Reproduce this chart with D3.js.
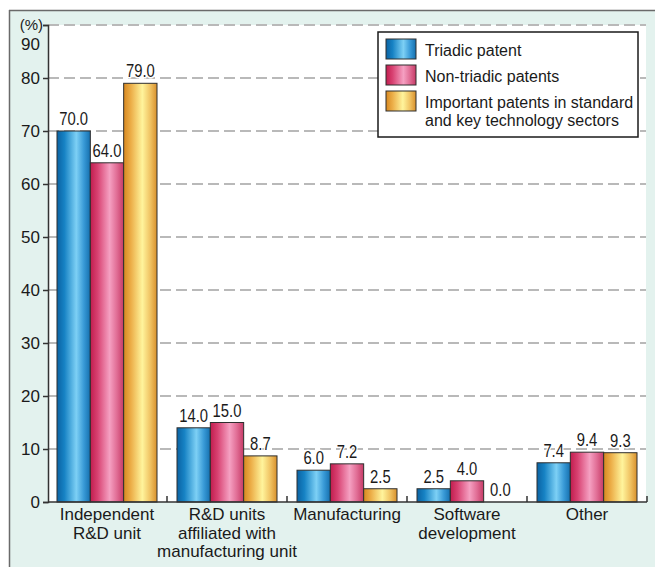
<!DOCTYPE html>
<html>
<head>
<meta charset="utf-8">
<script src="https://cdn.jsdelivr.net/npm/d3@7"></script>
<style>
  html, body { margin: 0; padding: 0; background: #fff; }
  svg { display: block; font-family: "Liberation Sans", Arial, Helvetica, sans-serif; }
</style>
</head>
<body>
<svg id="chart" width="655" height="567"></svg>
<script>
// ---- data ----
const categories = [
  ["Independent", "R&D unit"],
  ["R&D units", "affiliated with", "manufacturing unit"],
  ["Manufacturing"],
  ["Software", "development"],
  ["Other"]
];
const seriesNames = [
  ["Triadic patent"],
  ["Non-triadic patents"],
  ["Important patents in standard", "and key technology sectors"]
];
const triadic    = [70.0, 14.0, 6.0, 2.5, 7.4];
const nonTriadic = [64.0, 15.0, 7.2, 4.0, 9.4];
const important  = [79.0, 8.7, 2.5, 0.0, 9.3];
const yTicks = [0, 10, 20, 30, 40, 50, 60, 70, 80, 90];
const yUnit = "(%)";

const series = [triadic, nonTriadic, important];
const gradIds = ["gBlue", "gPink", "gOrange"];

// ---- layout ----
const svg = d3.select("#chart");
const W = 655, H = 567;
const plot = { left: 48, right: 646, top: 25, bottom: 502 };
const textColor = "#1a1a1a";

// panel background
svg.append("rect").attr("x", 9).attr("y", 10).attr("width", W).attr("height", H)
  .attr("fill", "#e3f2ee");
svg.append("line").attr("x1", 9).attr("x2", W).attr("y1", 10.5).attr("y2", 10.5)
  .attr("stroke", "#6a6a6a").attr("stroke-width", 1.5);
svg.append("line").attr("x1", 9.5).attr("x2", 9.5).attr("y1", 10).attr("y2", H)
  .attr("stroke", "#6a6a6a").attr("stroke-width", 1.5);

// gradients
const defs = svg.append("defs");
const gradStops = {
  gBlue:   [[0, "#0b62a2"], [0.22, "#1682c4"], [0.58, "#7dd0f5"], [0.8, "#3a9bd8"], [1, "#146fae"]],
  gPink:   [[0, "#c21d4e"], [0.22, "#d84272"], [0.58, "#f5a0c2"], [0.8, "#e06c94"], [1, "#c63a66"]],
  gOrange: [[0, "#d78820"], [0.22, "#ecae48"], [0.56, "#fff49c"], [0.8, "#f0c262"], [1, "#d8902c"]]
};
Object.entries(gradStops).forEach(([id, stops]) => {
  const g = defs.append("linearGradient").attr("id", id)
    .attr("x1", "0%").attr("x2", "100%").attr("y1", "0%").attr("y2", "0%");
  stops.forEach(([o, c]) => g.append("stop").attr("offset", o).attr("stop-color", c));
});

// scales
const x0 = d3.scaleBand().domain(d3.range(categories.length)).range([47, 647]);
const x1 = d3.scaleBand().domain(d3.range(series.length)).range([10, 110]);
const y = d3.scaleLinear().domain([0, 90]).range([plot.bottom, plot.top]);

// plot area
svg.append("rect").attr("x", plot.left).attr("y", plot.top)
  .attr("width", plot.right - plot.left).attr("height", plot.bottom - plot.top)
  .attr("fill", "#fff");

// gridlines
svg.append("g").selectAll("line").data(yTicks.filter(d => d > 0)).join("line")
  .attr("x1", plot.left).attr("x2", plot.right)
  .attr("y1", d => y(d)).attr("y2", d => y(d))
  .attr("stroke", "#b9b9b9").attr("stroke-width", 2)
  .attr("stroke-dasharray", "11,5");

// bars
const groups = svg.append("g").selectAll("g").data(categories).join("g")
  .attr("transform", (d, i) => `translate(${x0(i)},0)`);

groups.each(function(cat, ci) {
  const g = d3.select(this);
  series.forEach((vals, si) => {
    const v = vals[ci];
    g.append("rect")
      .attr("x", x1(si)).attr("width", x1.bandwidth())
      .attr("y", y(v)).attr("height", y(0) - y(v))
      .attr("fill", `url(#${gradIds[si]})`)
      .attr("stroke", "#2e2e2e").attr("stroke-width", 1);
  });
});

// value labels
groups.each(function(cat, ci) {
  const g = d3.select(this);
  series.forEach((vals, si) => {
    const v = vals[ci];
    const cx = x1(si) + x1.bandwidth() / 2;
    g.append("text")
      .attr("transform", `translate(${cx},${y(v) - 6}) scale(0.8,1)`)
      .attr("text-anchor", "middle")
      .attr("font-size", 18.5)
      .attr("fill", textColor)
      .attr("stroke", "#fff").attr("stroke-width", 3)
      .attr("paint-order", "stroke")
      .attr("stroke-linejoin", "round")
      .text(v.toFixed(1));
  });
});

// y axis
const yAxis = svg.append("g").attr("transform", `translate(${plot.left},0)`)
  .call(d3.axisLeft(y).tickValues(yTicks).tickSize(5).tickPadding(3).tickFormat(d3.format("d")));
yAxis.select(".domain").attr("stroke", "#333").attr("stroke-width", 1.5);
yAxis.selectAll(".tick line").attr("stroke", "#333").attr("stroke-width", 1.5);
yAxis.selectAll(".tick text")
  .attr("font-size", 17).attr("fill", textColor)
  .attr("font-family", "'Liberation Sans', Arial, sans-serif")
  .attr("dy", d => d === 90 ? "1.45em" : "0.34em");

svg.append("text").attr("x", 43).attr("y", 30).attr("text-anchor", "end")
  .attr("font-size", 15).attr("fill", textColor).text(yUnit);

// x axis
const xAxis = svg.append("g").attr("transform", `translate(0,${plot.bottom})`);
xAxis.append("line").attr("x1", plot.left).attr("x2", plot.right + 1)
  .attr("stroke", "#333").attr("stroke-width", 1.5);
xAxis.selectAll("line.tk").data(d3.range(1, categories.length + 1)).join("line")
  .attr("class", "tk")
  .attr("x1", i => x0(i - 1) + x0.bandwidth()).attr("x2", i => x0(i - 1) + x0.bandwidth())
  .attr("y1", 0).attr("y2", -6)
  .attr("stroke", "#333").attr("stroke-width", 1.5);

// category labels
const catLabels = svg.append("g").selectAll("text").data(categories).join("text")
  .attr("x", (d, i) => x0(i) + x0.bandwidth() / 2)
  .attr("y", 520)
  .attr("text-anchor", "middle")
  .attr("font-size", 17)
  .attr("fill", textColor);
catLabels.each(function(lines) {
  const t = d3.select(this);
  lines.forEach((ln, li) => {
    t.append("tspan").attr("x", t.attr("x")).attr("dy", li === 0 ? 0 : 18.5).text(ln);
  });
});

// legend
const legend = svg.append("g");
legend.append("rect").attr("x", 378).attr("y", 32).attr("width", 260).attr("height", 105)
  .attr("fill", "#fff").attr("stroke", "#1a1a1a").attr("stroke-width", 1.5);
seriesNames.forEach((lines, si) => {
  const yy = 39 + si * 26;
  legend.append("rect").attr("x", 386).attr("y", yy).attr("width", 30).attr("height", 20)
    .attr("fill", `url(#${gradIds[si]})`).attr("stroke", "#2e2e2e").attr("stroke-width", 1);
  const t = legend.append("text").attr("x", 425).attr("y", yy + 17)
    .attr("font-size", 16).attr("fill", textColor);
  lines.forEach((ln, li) => {
    t.append("tspan").attr("x", 425).attr("dy", li === 0 ? 0 : 18).text(ln);
  });
});
</script>
</body>
</html>
